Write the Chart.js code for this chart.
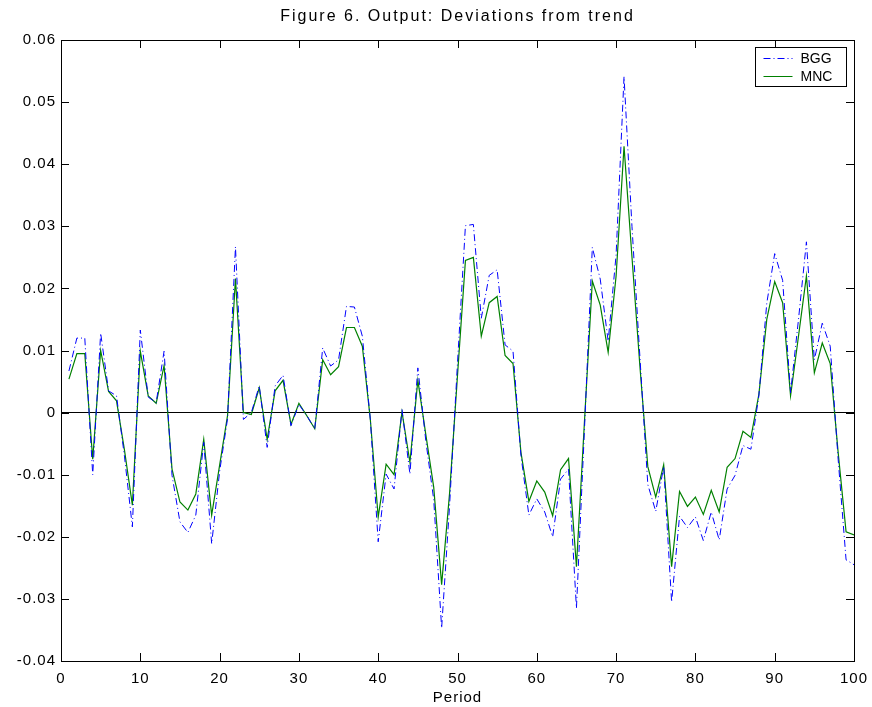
<!DOCTYPE html>
<html>
<head>
<meta charset="utf-8">
<script src="https://cdn.jsdelivr.net/npm/chart.js@4/dist/chart.umd.min.js"></script>
<style>
  html, body { margin: 0; padding: 0; background: #fff; }
  #wrap { width: 872px; height: 707px; }
</style>
</head>
<body>
<div id="wrap"><canvas id="myChart" width="872" height="707"></canvas></div>
<script>
const periods = Array.from({ length: 100 }, (_, i) => i + 1);

const bgg = [
  0.0067, 0.0120, 0.0120, -0.0100, 0.0128, 0.0035, 0.0027, -0.0070, -0.0184, 0.0133,
  0.0025, 0.0016, 0.0099, -0.0101, -0.0176, -0.0193, -0.0165, -0.0048, -0.0211, -0.0095,
  -0.0010, 0.0267, -0.0011, 0.0000, 0.0043, -0.0056, 0.0043, 0.0060, -0.0021, 0.0013,
  -0.0005, -0.0026, 0.0104, 0.0075, 0.0085, 0.0171, 0.0170, 0.0123, -0.0010, -0.0208,
  -0.0099, -0.0123, 0.0005, -0.0099, 0.0072, -0.0045, -0.0140, -0.0347, -0.0150, 0.0080,
  0.0301, 0.0303, 0.0152, 0.0221, 0.0230, 0.0109, 0.0099, -0.0069, -0.0165, -0.0139,
  -0.0160, -0.0200, -0.0107, -0.0091, -0.0315, -0.0030, 0.0266, 0.0215, 0.0115, 0.0254,
  0.0541, 0.0300, 0.0090, -0.0116, -0.0159, -0.0087, -0.0305, -0.0167, -0.0185, -0.0168,
  -0.0206, -0.0160, -0.0205, -0.0123, -0.0101, -0.0053, -0.0059, 0.0027, 0.0176, 0.0256,
  0.0213, 0.0032, 0.0150, 0.0275, 0.0085, 0.0144, 0.0107, -0.0075, -0.0237, -0.0245
];

const mnc = [
  0.0054, 0.0095, 0.0095, -0.0075, 0.0100, 0.0034, 0.0019, -0.0060, -0.0149, 0.0099,
  0.0027, 0.0015, 0.0076, -0.0091, -0.0144, -0.0157, -0.0131, -0.0043, -0.0165, -0.0085,
  -0.0005, 0.0216, 0.0000, -0.0003, 0.0040, -0.0043, 0.0035, 0.0052, -0.0019, 0.0015,
  -0.0005, -0.0026, 0.0085, 0.0061, 0.0074, 0.0137, 0.0137, 0.0107, -0.0010, -0.0168,
  -0.0083, -0.0100, 0.0001, -0.0080, 0.0052, -0.0035, -0.0120, -0.0277, -0.0130, 0.0060,
  0.0245, 0.0250, 0.0123, 0.0177, 0.0187, 0.0092, 0.0079, -0.0064, -0.0143, -0.0110,
  -0.0128, -0.0166, -0.0092, -0.0074, -0.0248, -0.0017, 0.0212, 0.0173, 0.0097, 0.0220,
  0.0429, 0.0251, 0.0075, -0.0087, -0.0136, -0.0084, -0.0248, -0.0127, -0.0151, -0.0136,
  -0.0164, -0.0125, -0.0160, -0.0088, -0.0074, -0.0030, -0.0040, 0.0029, 0.0150, 0.0211,
  0.0177, 0.0027, 0.0123, 0.0220, 0.0064, 0.0112, 0.0079, -0.0064, -0.0192, -0.0197
];

const xTicks = [0, 10, 20, 30, 40, 50, 60, 70, 80, 90, 100];
const yTicks = [-0.04, -0.03, -0.02, -0.01, 0, 0.01, 0.02, 0.03, 0.04, 0.05, 0.06];
const chartTitle = 'Figure 6. Output: Deviations from trend';

const FONT = 'Liberation Sans, Arial, sans-serif';

// box round the plot + inward ticks, like the matlab figure
const frame = {
  id: 'frame',
  beforeDraw(chart) {
    // matlab's labels are a bit loosely spaced
    chart.ctx.letterSpacing = '1px';
  },
  afterDraw(chart) {
    const { ctx, chartArea: a, scales } = chart;
    ctx.save();
    ctx.strokeStyle = '#000';
    ctx.lineWidth = 1;
    ctx.beginPath();
    xTicks.forEach(v => {
      const px = Math.round(scales.x.getPixelForValue(v)) + 0.5;
      ctx.moveTo(px, a.bottom); ctx.lineTo(px, a.bottom - 8);
      ctx.moveTo(px, a.top); ctx.lineTo(px, a.top + 8);
    });
    yTicks.forEach(v => {
      const py = Math.round(scales.y.getPixelForValue(v)) + 0.5;
      ctx.moveTo(a.left, py); ctx.lineTo(a.left + 8, py);
      ctx.moveTo(a.right, py); ctx.lineTo(a.right - 8, py);
    });
    ctx.stroke();
    ctx.strokeRect(Math.round(a.left) + 0.5, Math.round(a.top) + 0.5,
      Math.round(a.right - a.left), Math.round(a.bottom - a.top));

    // title
    ctx.fillStyle = '#000';
    ctx.font = '16px ' + FONT;
    ctx.letterSpacing = '2px';
    ctx.textAlign = 'center';
    ctx.textBaseline = 'middle';
    ctx.fillText(chartTitle, (a.left + a.right) / 2, 17);

    // legend box
    ctx.letterSpacing = '0px';
    ctx.textAlign = 'left';
    const bx = 755.5, by = 47.5, bw = 91, bh = 39;
    ctx.fillStyle = '#fff';
    ctx.fillRect(bx, by, bw, bh);
    ctx.strokeRect(bx, by, bw, bh);
    ctx.font = '14px ' + FONT;
    chart.data.datasets.forEach((ds, i) => {
      const ly = by + 11 + i * 18;
      ctx.strokeStyle = ds.borderColor;
      ctx.setLineDash(ds.borderDash || []);
      ctx.beginPath();
      ctx.moveTo(bx + 8, ly); ctx.lineTo(bx + 37, ly);
      ctx.stroke();
      ctx.setLineDash([]);
      ctx.fillStyle = '#000';
      ctx.fillText(ds.label, bx + 45, ly + 1);
    });
    ctx.restore();
  }
};

const ctx = document.getElementById('myChart').getContext('2d');
const myChart = new Chart(ctx, {
  type: 'line',
  data: {
    datasets: [{
      label: 'BGG',
      data: periods.map((p, i) => ({ x: p, y: bgg[i] })),
      borderColor: '#0000ff',
      borderWidth: 1,
      borderDash: [7, 3, 1, 3],
      pointRadius: 0,
      tension: 0,
      fill: false
    }, {
      label: 'MNC',
      data: periods.map((p, i) => ({ x: p, y: mnc[i] })),
      borderColor: '#008000',
      borderWidth: 1.2,
      pointRadius: 0,
      tension: 0,
      fill: false
    }]
  },
  options: {
    responsive: false,
    animation: false,
    layout: { padding: { left: 0, right: 18, top: 40, bottom: 0 } },
    plugins: {
      legend: { display: false },
      tooltip: { enabled: false },
      title: { display: false }
    },
    scales: {
      x: {
        type: 'linear',
        min: 0,
        max: 100,
        afterBuildTicks: s => { s.ticks = xTicks.map(v => ({ value: v })); },
        afterFit: s => { s.height = 46; s.paddingLeft = 0; s.paddingRight = 0; },
        grid: { display: false, drawTicks: false },
        border: { display: false },
        ticks: { color: '#000', padding: 9, maxRotation: 0, font: { family: FONT, size: 15 } },
        title: {
          display: true,
          text: 'Period',
          color: '#000',
          padding: { top: 0, bottom: 0 },
          font: { family: FONT, size: 15 }
        }
      },
      y: {
        min: -0.04,
        max: 0.06,
        afterBuildTicks: s => { s.ticks = yTicks.map(v => ({ value: v })); },
        afterFit: s => { s.width = 61; s.paddingTop = 0; s.paddingBottom = 0; },
        border: { display: false },
        grid: {
          drawTicks: false,
          color: c => (c.tick && Math.abs(c.tick.value) < 1e-9 ? '#000' : 'rgba(0,0,0,0)'),
          lineWidth: 1
        },
        ticks: {
          color: '#000',
          padding: 5,
          font: { family: FONT, size: 15 },
          callback: v => (Math.abs(v) < 1e-9 ? '0' : v.toFixed(2))
        }
      }
    }
  },
  plugins: [frame]
});
</script>
</body>
</html>
